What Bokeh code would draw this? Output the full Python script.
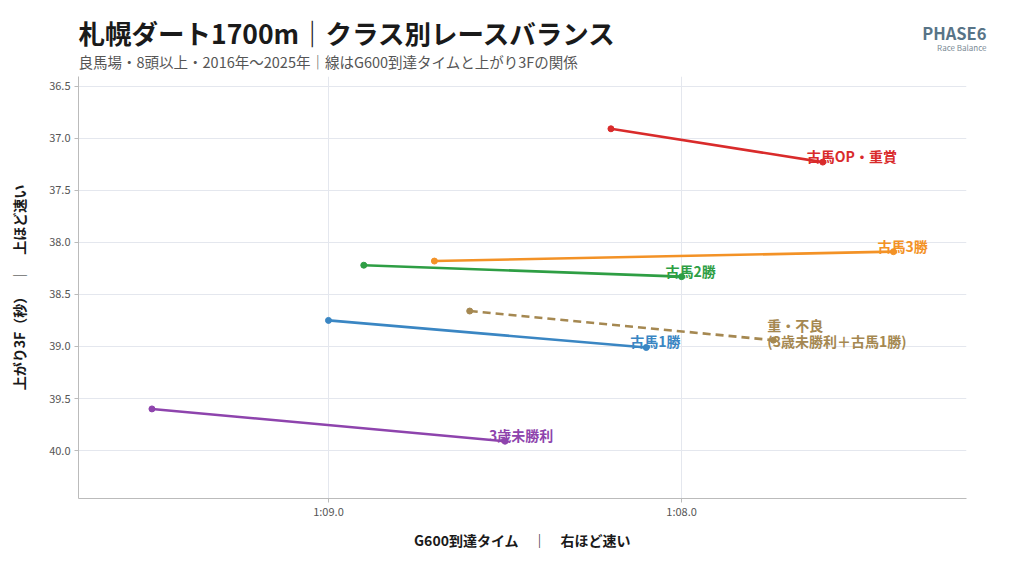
from bokeh.plotting import figure
from bokeh.layouts import column
from bokeh.models import Range1d, FixedTicker, CustomJSTickFormatter, PrintfTickFormatter, ColumnDataSource
from bokeh.core.properties import value
from bokeh.embed import file_html
from bokeh.resources import INLINE

FONT = "Noto Sans CJK JP"

title_text = "札幌ダート1700m｜クラス別レースバランス"
subtitle_text = "良馬場・8頭以上・2016年〜2025年｜線はG600到達タイムと上がり3Fの関係"
brand_text = "PHASE6"
brand_sub = "Race Balance"
classes = ["古馬OP・重賞", "古馬3勝", "古馬2勝", "古馬1勝", "重・不良\n(3歳未勝利＋古馬1勝)", "3歳未勝利"]
colors = ["#d92b2b", "#f39226", "#2e9e44", "#3a86c3", "#a58851", "#8e44ad"]
dashes = ["solid", "solid", "solid", "solid", "8 5", "solid"]
g600_start = [68.20, 68.70, 68.90, 69.00, 68.60, 69.50]
g600_end = [67.60, 67.40, 68.00, 68.10, 67.74, 68.50]
f3_start = [36.91, 38.18, 38.22, 38.75, 38.66, 39.60]
f3_end = [37.23, 38.09, 38.33, 39.01, 38.94, 39.91]
x_ticks = [69.0, 68.0]
y_ticks = [36.5, 37.0, 37.5, 38.0, 38.5, 39.0, 39.5, 40.0]

W = 1008
HH = 76                      # header height
LEFT, RIGHT, TOP, BOTTOM = 78, 42, 0, 56
FH = 422
H = TOP + FH + BOTTOM
BRAND_X = 986

# ---------- header (title / subtitle / brand) in page pixels ----------
hdr = figure(width=W, height=HH, output_backend="svg", toolbar_location=None,
             x_range=Range1d(0, W), y_range=Range1d(HH, 0),
             x_axis_type=None, y_axis_type=None,
             min_border_left=0, min_border_right=0, min_border_top=0, min_border_bottom=0)
hdr.frame_align = False
hdr.outline_line_color = None
hdr.grid.visible = False
hdr.background_fill_color = "white"
hdr.border_fill_color = "white"
hdr.text(x=[LEFT], y=[32], text=[title_text], text_font=value(FONT), text_font_size="26.5px",
         text_font_style="bold", text_color="#1a1a1a", text_align="left", text_baseline="middle")
hdr.text(x=[LEFT], y=[61], text=[subtitle_text], text_font=value(FONT), text_font_size="14.5px",
         text_color="#555555", text_align="left", text_baseline="middle")
hdr.text(x=[BRAND_X], y=[32], text=[brand_text], text_font=value(FONT), text_font_size="16.5px",
         text_font_style="bold", text_color="#587487", text_align="right", text_baseline="middle")
hdr.text(x=[BRAND_X], y=[47], text=[brand_sub], text_font=value(FONT), text_font_size="8px",
         text_color="#7a8a95", text_align="right", text_baseline="middle")

# ---------- main chart ----------
p = figure(width=W, height=H, output_backend="svg", toolbar_location=None,
           x_range=Range1d(69.708, 67.193), y_range=Range1d(40.46, 36.408),
           min_border_left=LEFT, min_border_right=RIGHT, min_border_bottom=BOTTOM,
           min_border_top=TOP)
p.frame_align = False
p.outline_line_color = None
p.background_fill_color = "white"
p.border_fill_color = "white"

p.xaxis.ticker = FixedTicker(ticks=x_ticks)
p.xaxis.formatter = CustomJSTickFormatter(code="""
const m = Math.floor(tick/60 + 1e-9); const s = tick - m*60;
return m + ':' + (s < 10 ? '0' : '') + s.toFixed(1);""")
p.yaxis.ticker = FixedTicker(ticks=y_ticks)
p.yaxis.formatter = PrintfTickFormatter(format="%.1f")
p.xaxis.axis_label = "G600到達タイム　｜　右ほど速い"
p.yaxis.axis_label = "上がり3F（秒）　｜　上ほど速い"
for ax in (p.xaxis, p.yaxis):
    ax.axis_label_text_font = FONT
    ax.axis_label_text_font_size = "14px"
    ax.axis_label_text_font_style = "bold"
    ax.axis_label_text_color = "#1a1a1a"
    ax.major_label_text_font = FONT
    ax.major_label_text_font_size = "11px"
    ax.major_label_text_color = "#555555"
    ax.axis_line_color = "#bbbbbb"
    ax.major_tick_line_color = "#bbbbbb"
    ax.major_tick_out = 4
    ax.major_tick_in = 0
    ax.minor_tick_line_color = None
p.xaxis.major_label_standoff = 0
p.yaxis.major_label_standoff = 4
p.xaxis.axis_label_standoff = 8
p.yaxis.axis_label_standoff = 17
p.xgrid.ticker = FixedTicker(ticks=x_ticks)
p.ygrid.ticker = FixedTicker(ticks=y_ticks)
p.grid.grid_line_color = "#e4e7ee"
p.grid.grid_line_width = 1

for i, name in enumerate(classes):
    xs = [g600_start[i], g600_end[i]]
    ys = [f3_start[i], f3_end[i]]
    p.line(xs, ys, line_color=colors[i], line_width=2.6, line_dash=dashes[i])
    p.scatter(xs, ys, size=6, fill_color=colors[i], line_color=colors[i])

single = [i for i, n in enumerate(classes) if "\n" not in n]
multi = [i for i, n in enumerate(classes) if "\n" in n]
src1 = ColumnDataSource(dict(x=[g600_end[i] for i in single], y=[f3_end[i] for i in single],
                             t=[classes[i] for i in single], c=[colors[i] for i in single]))
p.text(x="x", y="y", text="t", text_color="c", source=src1, x_offset=-16, y_offset=-6,
       text_font=value(FONT), text_font_size="14px", text_font_style="bold",
       text_align="left", text_baseline="middle")
src2 = ColumnDataSource(dict(x=[g600_end[i] for i in multi], y=[f3_end[i] for i in multi],
                             t=[classes[i] for i in multi], c=[colors[i] for i in multi]))
p.text(x="x", y="y", text="t", text_color="c", source=src2, x_offset=-6, y_offset=-7,
       text_font=value(FONT), text_font_size="14px", text_font_style="bold",
       text_align="left", text_baseline="middle", text_line_height=0.8)

open("out.html", "w").write(file_html(column(hdr, p, spacing=0), INLINE))
